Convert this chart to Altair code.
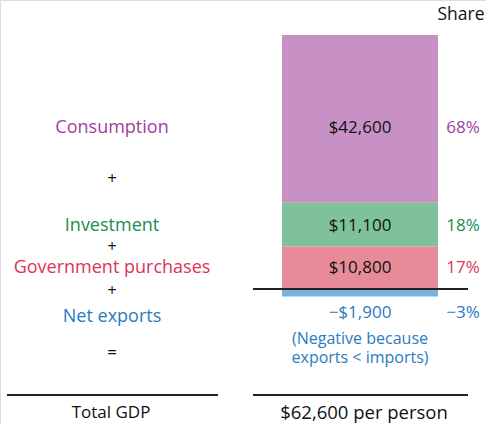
import altair as alt
import pandas as pd

# ---- data ----
categories = ["Consumption", "Investment", "Government purchases", "Net exports"]
values = [42600, 11100, 10800, -1900]
shares = ["68%", "18%", "17%", "\u22123%"]
bar_colors = ["#C891C5", "#7FC19B", "#E88B99", "#7DB2DC"]
text_colors = ["#9C3FA0", "#1E8C4E", "#DD3358", "#2A7BC1"]

W, H = 486, 424
FONT = "Open Sans"

# stacked extents (positives stacked upward from zero)
rows = []
pos_top = 0
for cat, v in reversed(list(zip(categories, values))):
    if v >= 0:
        y0, y1 = pos_top, pos_top + v
        pos_top = y1
    else:
        y0, y1 = 0, v
    rows.append((cat, v, y0, y1))
rows = rows[::-1]
df = pd.DataFrame(rows, columns=["category", "value", "y0", "y1"])
df["mid"] = (df["y0"] + df["y1"]) / 2
df["share"] = shares
df["label"] = [("\u2212$" if v < 0 else "$") + f"{abs(v):,}" for v in values]
df["col"] = "GDP"
total = sum(values)

# layout: zero line at 289px, top of stack at 35px
zero_px, top_px = 289, 35
k = (zero_px - top_px) / pos_top
ydom = [-(H - zero_px) / k, zero_px / k]
yscale = alt.Scale(domain=ydom, range=[H, 0], nice=False, zero=False)
xscale = alt.Scale(domain=["GDP"], range=[282, 438], paddingInner=0, paddingOuter=0)

base = alt.Chart(df)

bars = base.mark_bar().encode(
    x=alt.X("col:N", scale=xscale, axis=None),
    y=alt.Y("y0:Q", scale=yscale, axis=None),
    y2="y1:Q",
    color=alt.Color("category:N", scale=alt.Scale(domain=categories, range=bar_colors), legend=None),
)

zero_rule = alt.Chart(pd.DataFrame({"z": [0]})).mark_rule(color="#222222", strokeWidth=2).encode(
    y=alt.Y("z:Q", scale=yscale), x=alt.value(253), x2=alt.value(468)
)

# per-row vertical nudges (layout)
dy_name = {"Consumption": 9, "Investment": 1, "Government purchases": 0, "Net exports": 24}
dy_num = {"Consumption": 9, "Investment": 1, "Government purchases": 0, "Net exports": 20}

layers = [bars, zero_rule]
for i, cat in enumerate(categories):
    sub = base.transform_filter(alt.datum.category == cat)
    tc = text_colors[i]
    vc = "#111111" if values[i] >= 0 else tc
    layers.append(sub.mark_text(font=FONT, fontSize=18, color=tc, dy=dy_name[cat]).encode(
        x=alt.value(112), y=alt.Y("mid:Q", scale=yscale), text="category:N"))
    layers.append(sub.mark_text(font=FONT, fontSize=17, color=vc, dy=dy_num[cat]).encode(
        x=alt.X("col:N", scale=xscale), y=alt.Y("mid:Q", scale=yscale), text="label:N"))
    layers.append(sub.mark_text(font=FONT, fontSize=17, color=tc, dy=dy_num[cat]).encode(
        x=alt.value(463), y=alt.Y("mid:Q", scale=yscale), text="share:N"))

def txt(s, x, y, fs, color="#111111"):
    return alt.Chart(pd.DataFrame({"t": [s]})).mark_text(font=FONT, fontSize=fs, color=color).encode(
        x=alt.value(x), y=alt.value(y), text="t:N")

layers += [
    txt("Share", 461, 15, 17.5),
    txt("+", 112, 179, 17),
    txt("+", 112, 247, 16),
    txt("+", 112, 291, 16),
    txt("=", 112, 353, 17),
    txt("(Negative because", 360, 339, 16, text_colors[3]),
    txt("exports < imports)", 360, 358, 16, text_colors[3]),
    txt("Total GDP", 111, 413, 17),
    txt(f"${total:,} per person", 364, 413, 18.5),
]

def hrule(x1, x2, y):
    return alt.Chart(pd.DataFrame({"a": [0]})).mark_rule(color="#222222", strokeWidth=2).encode(
        x=alt.value(x1), x2=alt.value(x2), y=alt.value(y))

layers += [hrule(7, 218, 395), hrule(253, 468, 395)]

chart = alt.layer(*layers).properties(
    width=W, height=H, padding=0, autosize=alt.AutoSizeParams(type="none")
).configure_view(stroke=None).configure(background="white")

chart.save("out.html", embed_options={"renderer": "svg", "actions": False})
